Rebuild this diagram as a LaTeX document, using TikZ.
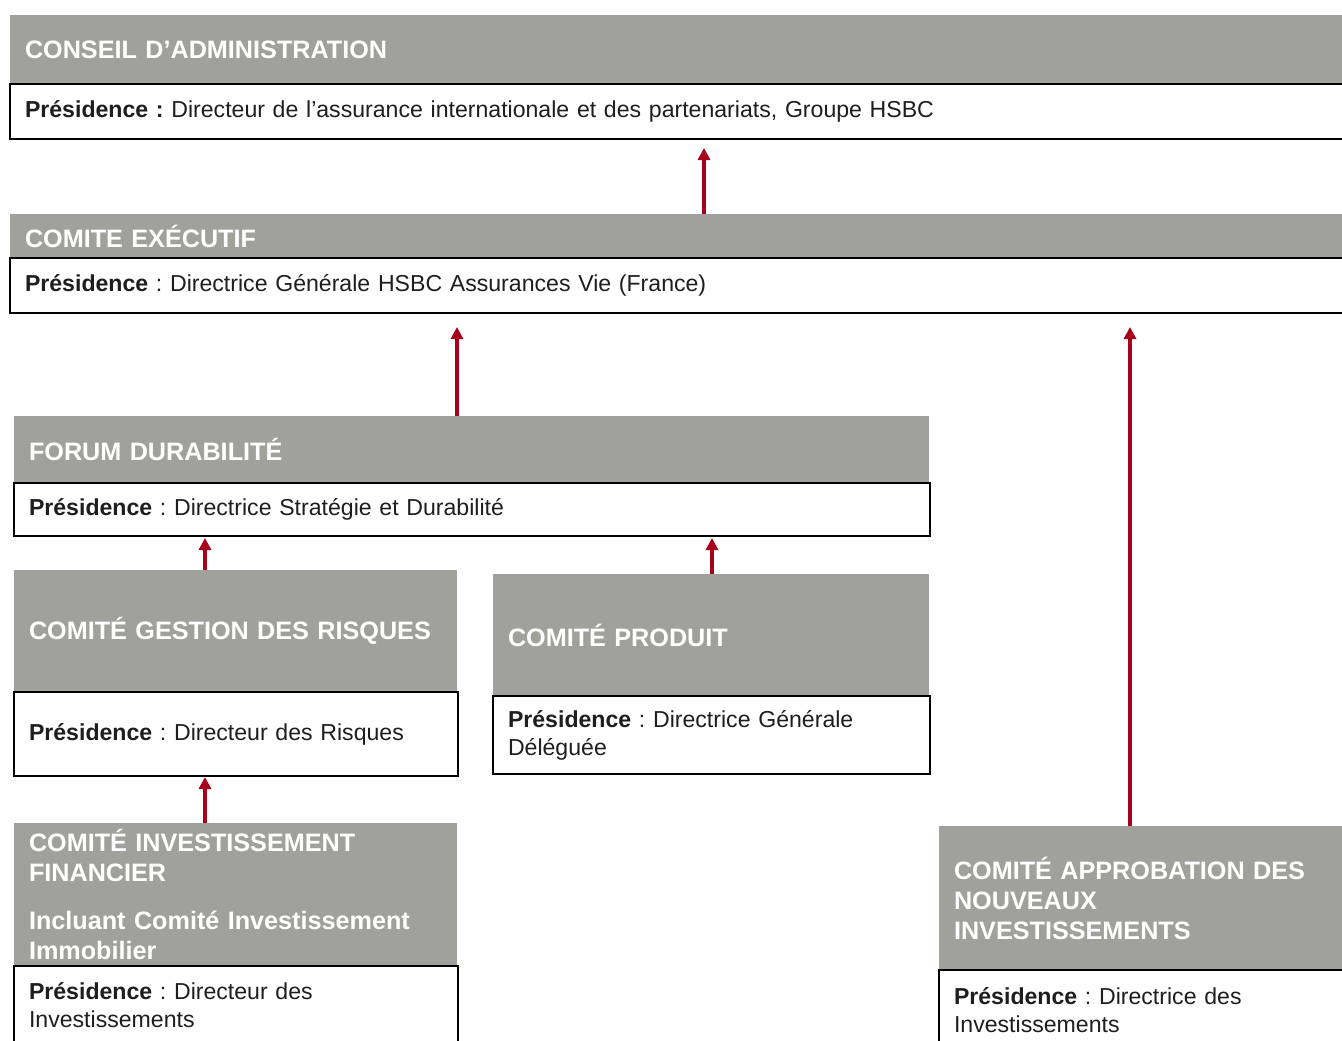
\documentclass[tikz,border=0pt]{standalone}
\usepackage{fontspec}
\setmainfont{Liberation Sans}
\usetikzlibrary{arrows.meta}
\definecolor{hgray}{RGB}{160,161,156}
\definecolor{hred}{RGB}{168,0,28}
\definecolor{btext}{RGB}{30,30,30}
\frenchspacing
\begin{document}
\begin{tikzpicture}[x=1pt,y=-1pt,
  hdr/.style={fill=hgray, anchor=north west, inner xsep=15pt, inner ysep=0pt, outer sep=0pt,
    align=left, text=white, font=\fontsize{25.2}{30}\selectfont\bfseries},
  bdy/.style={fill=white, draw=black, line width=1.6pt, anchor=north west, inner xsep=15pt, inner ysep=0pt, outer sep=0pt,
    align=left, text=btext, font=\fontsize{23.1}{28}\selectfont},
  arr/.style={draw=hred, line width=3.2pt, -{Triangle[width=12pt,length=12pt]}}]
\useasboundingbox (0,0) rectangle (1342,1041);
\clip (0,0) rectangle (1342,1041);
\fill[white] (0,0) rectangle (1342,1041);

% Conseil d'administration
\node[hdr, text width=1310pt, minimum height=69pt] (conseilH) at (10,15) {CONSEIL D’ADMINISTRATION};
\node[bdy, text width=1310pt, minimum height=55pt] (conseilB) at (10,84) {\textbf{Présidence :} Directeur de l’assurance internationale et des partenariats, Groupe HSBC};

% Comite executif
\node[hdr, text width=1310pt, minimum height=44pt] (execH) at (10,214) {COMITE EXÉCUTIF};
\node[bdy, text width=1310pt, minimum height=55pt] (execB) at (10,258) {\textbf{Présidence} : Directrice Générale HSBC Assurances Vie (France)};

% Forum durabilite
\node[hdr, text width=885pt, minimum height=67pt] (forumH) at (14,416) {FORUM DURABILITÉ};
\node[bdy, text width=886pt, minimum height=53pt] (forumB) at (14,483) {\textbf{Présidence} : Directrice Stratégie et Durabilité};

% Comite gestion des risques
\node[hdr, text width=413pt, minimum height=122pt] (riskH) at (14,570) {COMITÉ GESTION DES RISQUES};
\node[bdy, text width=414pt, minimum height=84pt] (riskB) at (14,692) {\textbf{Présidence} : Directeur des Risques};

% Comite produit
\node[hdr, text width=406pt, minimum height=122pt] (prodH) at (493,574) {COMITÉ PRODUIT};
\node[bdy, text width=407pt, minimum height=78pt] (prodB) at (493,696) {\textbf{Présidence} : Directrice Générale\\Déléguée};

% Comite investissement financier
\node[hdr, text width=413pt, minimum height=143pt] (invH) at (14,823) {COMITÉ INVESTISSEMENT\\FINANCIER\\[18pt]Incluant Comité Investissement\\Immobilier};
\node[bdy, text width=414pt, minimum height=78pt] (invB) at (14,966) {\textbf{Présidence} : Directeur des\\Investissements};

% Comite approbation des nouveaux investissements
\node[hdr, text width=381pt, minimum height=144pt] (apprH) at (939,826) {COMITÉ APPROBATION DES\\NOUVEAUX\\INVESTISSEMENTS};
\node[bdy, text width=381pt, minimum height=80pt] (apprB) at (939,970) {\textbf{Présidence} : Directrice des\\Investissements};

% arrow x positions
\coordinate (xa) at (704,0);
\coordinate (xb) at (457,0);
\coordinate (xc) at (1130,0);
\coordinate (xd) at (205,0);
\coordinate (xe) at (712,0);

\draw[arr, shorten >=9pt] (execH.north -| xa) -- (conseilB.south -| xa);
\draw[arr, shorten >=14pt] (forumH.north -| xb) -- (execB.south -| xb);
\draw[arr, shorten >=14pt] (apprH.north -| xc) -- (execB.south -| xc);
\draw[arr, shorten >=2pt] (riskH.north -| xd) -- (forumB.south -| xd);
\draw[arr, shorten >=2pt] (prodH.north -| xe) -- (forumB.south -| xe);
\draw[arr, shorten >=1pt] (invH.north -| xd) -- (riskB.south -| xd);
\end{tikzpicture}
\end{document}
